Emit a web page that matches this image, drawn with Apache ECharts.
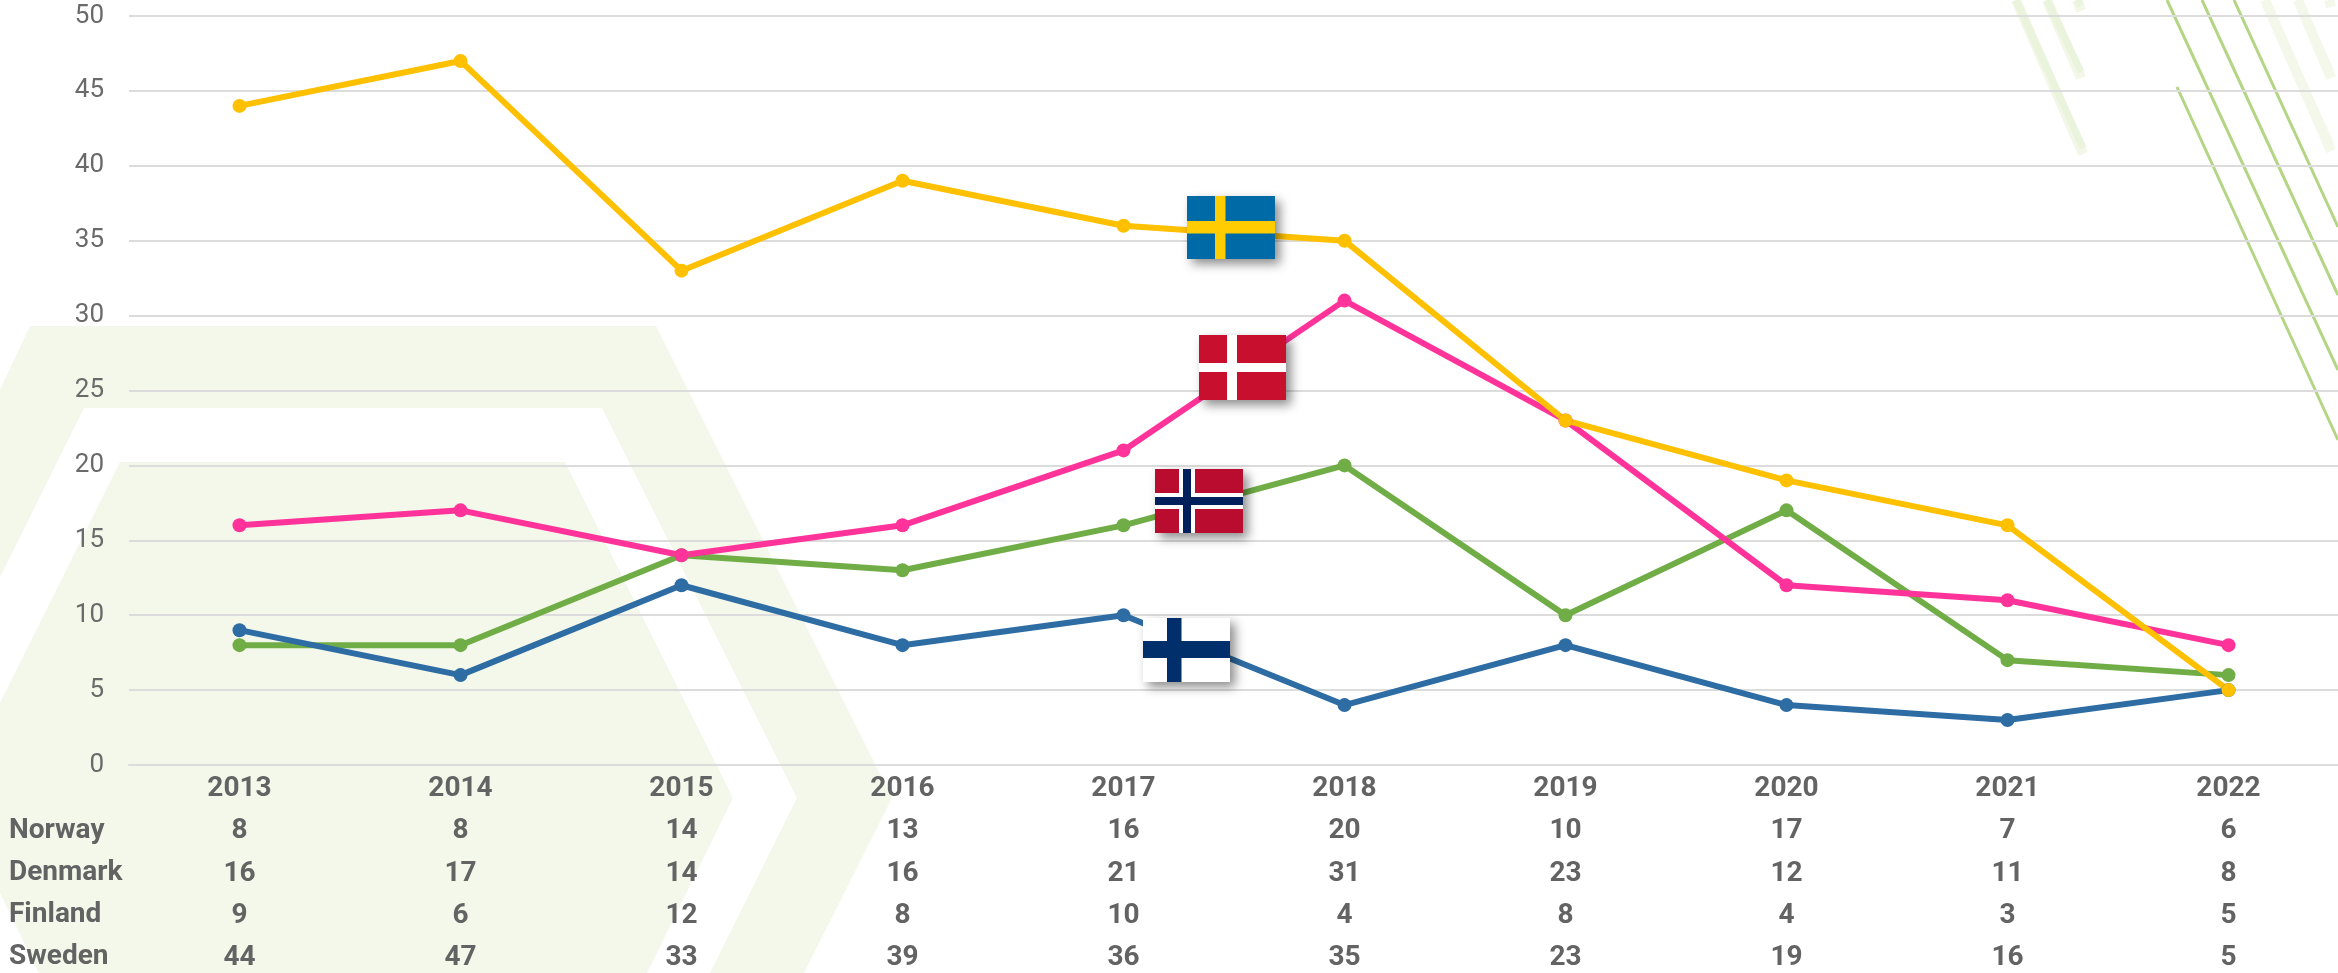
<!DOCTYPE html>
<html>
<head>
<meta charset="utf-8">
<style>
  html, body { margin: 0; padding: 0; background: #fff; }
  #chart { width: 2338px; height: 973px; }
</style>
<script src="https://cdn.jsdelivr.net/npm/echarts@6/dist/echarts.min.js"></script>
</head>
<body>
<div id="chart"></div>
<script>
const years = ['2013', '2014', '2015', '2016', '2017', '2018', '2019', '2020', '2021', '2022'];
const norway = [8, 8, 14, 13, 16, 20, 10, 17, 7, 6];
const denmark = [16, 17, 14, 16, 21, 31, 23, 12, 11, 8];
const finland = [9, 6, 12, 8, 10, 4, 8, 4, 3, 5];
const sweden = [44, 47, 33, 39, 36, 35, 23, 19, 16, 5];
const rowNames = ['Norway', 'Denmark', 'Finland', 'Sweden'];
const rowValues = [norway, denmark, finland, sweden];
const rowColors = ['#70ad47', '#ff3399', '#2e6ca4', '#ffc000'];

const textColor = '#636363';
const gridColor = '#dcdcdc';
const paleGreen = '#f4f8ea';
const rowHeight = 42.3;

/* ===== decoration behind the plot ===== */

function polygon(points, fill) {
  return { type: 'polygon', z: -10, silent: true, shape: { points }, style: { fill } };
}

function stroke(x1, y1, x2, y2, color, width) {
  return {
    type: 'line', z: -10, silent: true,
    shape: { x1, y1, x2, y2 },
    style: { stroke: color, lineWidth: width },
  };
}

function paleBand(x1, y1, x2, y2, tip, core) {
  return [
    stroke(x1, y1, x2, y2 + 6, tip, 10),
    stroke(x1, y1, x2, y2, core, 7),
  ];
}

const backdrop = [
  polygon([[30, 326], [656, 326], [892, 798], [804, 973], [710, 973], [797, 798], [602, 408], [84, 408], [0, 577], [0, 390]], paleGreen),
  polygon([[120, 462], [565, 462], [733, 798], [647, 973], [39, 973], [0, 893], [0, 703]], paleGreen),
  stroke(2177, 87, 2338, 440, '#b3d584', 3),
  stroke(2167, 0, 2338, 370, '#b3d584', 3),
  stroke(2202, 0, 2338, 295, '#b3d584', 3),
  stroke(2234, 0, 2338, 227, '#b3d584', 3),
  ...paleBand(2016, 0, 2083, 148, '#f2f7e7', '#eaf3dc'),
  ...paleBand(2047, 0, 2081, 72, '#f2f7e7', '#eaf3dc'),
  ...paleBand(2077, 0, 2081, 5, '#f2f7e7', '#eaf3dc'),
  ...paleBand(2265, 0, 2331, 145, '#f3f8ea', '#f3f8ea'),
  ...paleBand(2298, 0, 2331, 72, '#f3f8ea', '#f3f8ea'),
  ...paleBand(2329, 0, 2331, 1, '#f3f8ea', '#f3f8ea'),
];

/* ===== flags ===== */

function flag(x, y, w, h, base, bars) {
  const parts = [{
    type: 'rect',
    z: 100,
    silent: true,
    shape: { x, y, width: w, height: h },
    style: {
      fill: base,
      shadowBlur: 10,
      shadowOffsetX: 5,
      shadowOffsetY: 5,
      shadowColor: 'rgba(0, 0, 0, 0.45)',
    },
  }];
  bars.forEach(b => {
    parts.push({
      type: 'rect',
      z: 101,
      silent: true,
      shape: { x: b[0], y: b[1], width: b[2], height: b[3] },
      style: { fill: b[4] },
    });
  });
  return parts;
}

const flags = [
  ...flag(1187, 196, 88, 63, '#006aa7', [
    [1215, 196, 10.5, 63, '#fecc00'],
    [1187, 221, 88, 12.5, '#fecc00'],
  ]),
  ...flag(1199, 335, 87, 65, '#c8102e', [
    [1227, 335, 10, 65, '#ffffff'],
    [1199, 363, 87, 9, '#ffffff'],
  ]),
  ...flag(1155, 469, 88, 64, '#ba0c2f', [
    [1179, 469, 16, 64, '#ffffff'],
    [1155, 493, 88, 16, '#ffffff'],
    [1183, 469, 8, 64, '#00205b'],
    [1155, 497, 88, 8, '#00205b'],
  ]),
  ...flag(1143, 618, 87, 64, '#ffffff', [
    [1167, 618, 14.5, 64, '#002f6c'],
    [1143, 641, 87, 17, '#002f6c'],
  ]),
];

/* ===== table under the axis ===== */

const rowLabels = rowNames.map((name, i) => ({
  type: 'text',
  z: 50,
  silent: true,
  style: {
    x: 9,
    y: 830.5 + i * rowHeight,
    text: name,
    fill: textColor,
    font: 'bold 28px Roboto',
    verticalAlign: 'middle',
  },
}));

function seriesFor(name, data, color) {
  return {
    name,
    type: 'line',
    data,
    smooth: false,
    symbol: 'circle',
    symbolSize: 14,
    lineStyle: { width: 6, color },
    itemStyle: { color },
    animation: false,
  };
}

const chart = echarts.init(document.getElementById('chart'));
chart.setOption({
  backgroundColor: '#ffffff',
  animation: false,
  legend: { show: false },
  grid: { left: 129, top: 16, width: 2210, height: 749, outerBoundsMode: 'none' },
  xAxis: {
    type: 'category',
    data: years,
    axisLine: { show: true, lineStyle: { color: gridColor, width: 2 } },
    axisTick: { show: false },
    axisLabel: {
      interval: 0,
      color: textColor,
      fontFamily: 'Roboto',
      fontSize: 28,
      fontWeight: 'bold',
      lineHeight: rowHeight,
      margin: 3,
      formatter: (value, idx) => [value, ...rowValues.map(r => r[idx])].join('\n'),
    },
  },
  yAxis: {
    type: 'value',
    min: 0,
    max: 50,
    interval: 5,
    axisLine: { show: false },
    axisTick: { show: false },
    axisLabel: { color: '#6a6a6a', fontFamily: 'Roboto', fontSize: 26, margin: 25, padding: [6, 0, 0, 0] },
    splitLine: { lineStyle: { color: gridColor, width: 2 } },
  },
  graphic: { elements: [...backdrop, ...rowLabels, ...flags] },
  series: rowNames.map((name, i) => seriesFor(name, rowValues[i], rowColors[i])),
});

window.addEventListener('resize', () => {
  chart.resize();
});
</script>
</body>
</html>
